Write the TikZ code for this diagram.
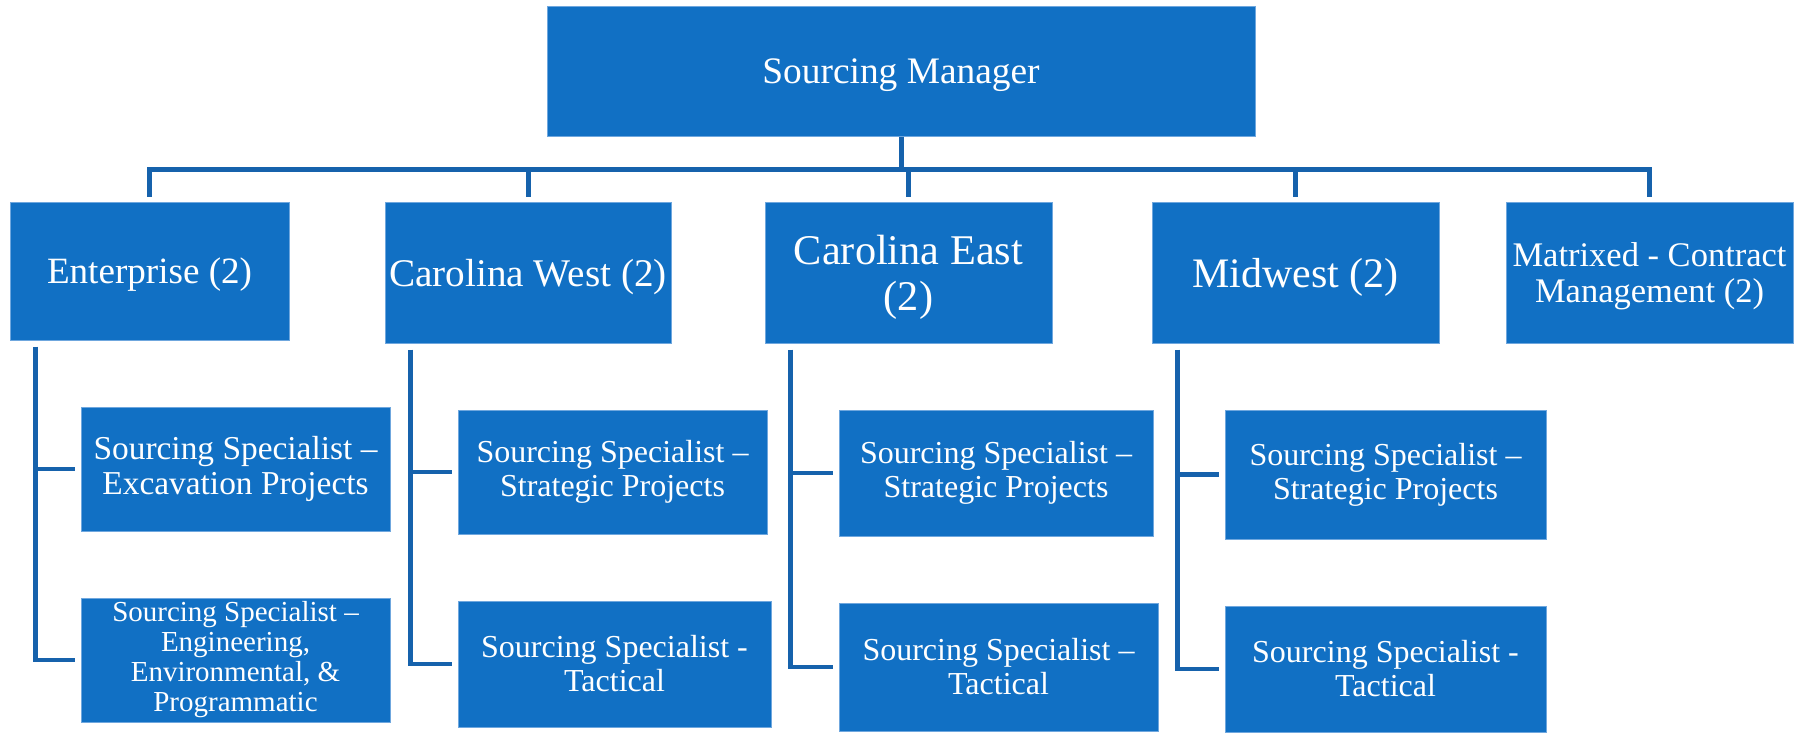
\documentclass[tikz,border=0pt]{standalone}
\usepackage{fontspec}
\setmainfont{Liberation Serif}
\definecolor{orgBlue}{HTML}{1170C4}
\definecolor{orgLine}{HTML}{1662AC}
\definecolor{orgEdge}{HTML}{6FA7DE}
\tikzset{
  org box/.style={draw=orgEdge, line width=1pt, fill=orgBlue, text=white, align=center, inner sep=0pt},
  org head/.style={org box, text depth=0pt},
  org link/.style={draw=orgLine, line width=5pt},
  org sub link/.style={draw=orgLine, line width=4.5pt},
  org spec/.style={org box, font=\fontsize{32}{34}\selectfont},
}

\begin{document}
\begin{tikzpicture}[x=1pt,y=-1pt]
  \useasboundingbox (0,0) rectangle (1806,732);
  % top
  \node[org head, minimum width=708pt, minimum height=130pt, font=\fontsize{37.4}{40}\selectfont] (mgr) at (901,71) {Sourcing Manager};
  % regions
  \node[org head, minimum width=279pt, minimum height=138pt, font=\fontsize{37.1}{40}\selectfont] (ent) at (149.5,271) {Enterprise (2)};
  \node[org head, minimum width=286pt, minimum height=141pt, font=\fontsize{39.2}{42}\selectfont] (cw) at (528,272.5) {Carolina West (2)};
  \node[org head, minimum width=287pt, minimum height=141pt, font=\fontsize{42.3}{46}\selectfont] (ce) at (908.5,272.5) {Carolina East\\(2)};
  \node[org head, minimum width=287pt, minimum height=141pt, font=\fontsize{42}{46}\selectfont] (mw) at (1295.5,272.5) {Midwest (2)};
  \node[org head, minimum width=287pt, minimum height=141pt, font=\fontsize{34.5}{35.7}\selectfont] (mx) at (1649.5,272.5) {Matrixed - Contract\\Management (2)};
  % specialists
  \node[org spec, minimum width=309pt, minimum height=124pt, font=\fontsize{33.4}{34.6}\selectfont] (ent1) at (235.5,469) {Sourcing Specialist --\\Excavation Projects};
  \node[org spec, minimum width=309pt, minimum height=124pt, font=\fontsize{29}{30}\selectfont] (ent2) at (235.5,660) {Sourcing Specialist --\\Engineering,\\Environmental, \&\\Programmatic};
  \node[org spec, minimum width=309pt, minimum height=124pt] (cw1) at (612.5,472) {Sourcing Specialist --\\Strategic Projects};
  \node[org spec, minimum width=313pt, minimum height=126pt] (cw2) at (614.5,664) {Sourcing Specialist -\\Tactical};
  \node[org spec, minimum width=314pt, minimum height=126pt] (ce1) at (996,473) {Sourcing Specialist --\\Strategic Projects};
  \node[org spec, minimum width=319pt, minimum height=128pt] (ce2) at (998.5,667) {Sourcing Specialist --\\Tactical};
  \node[org spec, minimum width=321pt, minimum height=129pt] (mw1) at (1385.5,474.5) {Sourcing Specialist --\\Strategic Projects};
  \node[org spec, minimum width=321pt, minimum height=126pt] (mw2) at (1385.5,669) {Sourcing Specialist -\\Tactical};

  % bus
  \coordinate (bus) at (901,169);
  \draw[org link] (mgr.south) -- (bus);
  \draw[org link] ([yshift=5pt]ent.north) |- (bus) -| ([yshift=5pt]mx.north);
  \foreach \n in {cw,ce,mw}
    \draw[org link] ([yshift=5pt]\n.north) -- (\n.north |- bus);

  % side trunks
  \foreach \p/\a/\b in {ent/ent1/ent2, cw/cw1/cw2, ce/ce1/ce2, mw/mw1/mw2} {
    \coordinate (\p-t) at ([xshift=26pt,yshift=-6pt]\p.south west);
    \draw[org sub link] (\p-t) |- ([xshift=-6pt]\b.west);
    \draw[org sub link] (\p-t |- \a.west) -- ([xshift=-6pt]\a.west);
  }
\end{tikzpicture}
\end{document}
